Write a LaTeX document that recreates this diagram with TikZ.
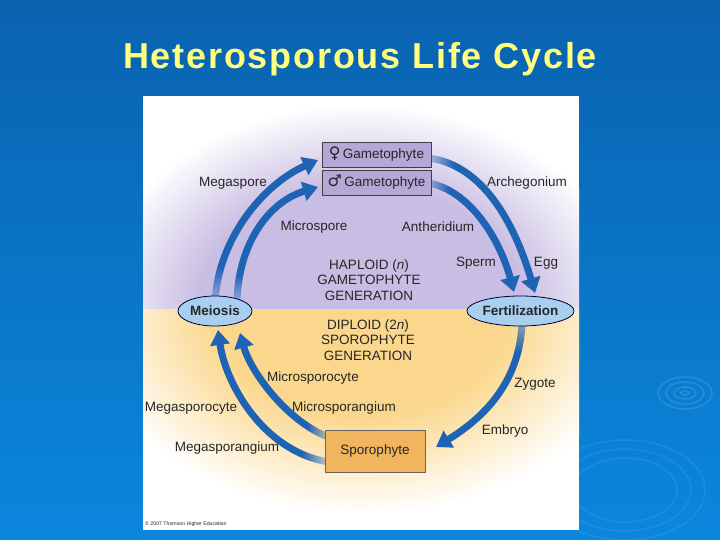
\documentclass[tikz,border=0pt]{standalone}
\usepackage{fontspec}
\setmainfont{Liberation Sans}
\newfontfamily\titlefont[LetterSpace=5]{Liberation Sans}
\newfontfamily\symfont{DejaVu Sans}
\usetikzlibrary{arrows.meta,shapes.geometric,fadings}
\definecolor{bgtop}{HTML}{0A62AF}
\definecolor{bgbot}{HTML}{0A87DD}
\definecolor{ttl}{HTML}{FFFF80}
\definecolor{lav}{HTML}{C8BDE2}
\definecolor{ylw}{HTML}{FAD78C}
\definecolor{gbox}{HTML}{B6A7D6}
\definecolor{sbox}{HTML}{F1B55E}
\definecolor{ebox}{HTML}{A9CFF0}
\definecolor{arr}{HTML}{1F63B5}
\definecolor{txt}{HTML}{262626}
\pgfdeclareradialshading{haplsh}{\pgfpoint{0bp}{0bp}}{color(0bp)=(lav); color(15bp)=(lav); color(25bp)=(white); color(50bp)=(white)}
\pgfdeclareradialshading{diplsh}{\pgfpoint{0bp}{0bp}}{color(0bp)=(ylw); color(13bp)=(ylw); color(25bp)=(white); color(50bp)=(white)}
\begin{tikzfadingfrompicture}[name=fadeS]
\fill[white] (-50bp,-12bp) rectangle (50bp,50bp);
\shade[bottom color=black!85, top color=white] (-50bp,-25bp) rectangle (50bp,-12bp);
\fill[black!85] (-50bp,-50bp) rectangle (50bp,-25bp);
\end{tikzfadingfrompicture}
\begin{tikzfadingfrompicture}[name=fadeW]
\fill[white] (-12bp,-50bp) rectangle (50bp,50bp);
\shade[left color=black!85, right color=white] (-25bp,-50bp) rectangle (-12bp,50bp);
\fill[black!85] (-50bp,-50bp) rectangle (-25bp,50bp);
\end{tikzfadingfrompicture}
\begin{tikzfadingfrompicture}[name=fadeN]
\fill[white] (-50bp,-50bp) rectangle (50bp,12bp);
\shade[top color=black!60, bottom color=white] (-50bp,12bp) rectangle (50bp,25bp);
\fill[black!60] (-50bp,25bp) rectangle (50bp,50bp);
\end{tikzfadingfrompicture}
\begin{tikzfadingfrompicture}[name=fadeE]
\fill[white] (-50bp,-50bp) rectangle (12bp,50bp);
\shade[right color=black!85, left color=white] (12bp,-50bp) rectangle (25bp,50bp);
\fill[black!85] (25bp,-50bp) rectangle (50bp,50bp);
\end{tikzfadingfrompicture}
\newcommand{\lbfont}{\fontsize{13.5}{15.5}\selectfont}
\begin{document}
\begin{tikzpicture}[x=1pt,y=1pt,
  lbl/.style={font=\lbfont, text=txt, inner sep=0pt},
  gamebox/.style={draw=black!75, line width=0.8pt, fill=gbox, minimum width=109pt, minimum height=25pt, inner sep=0pt, font=\lbfont, text=txt},
  sporobox/.style={draw=black!60, line width=0.8pt, fill=sbox, minimum width=100pt, minimum height=42pt, inner sep=0pt, font=\lbfont, text=txt},
  stage/.style={ellipse, draw=black!80!blue, line width=0.8pt, fill=ebox, inner sep=0pt, minimum height=30pt, font=\lbfont\bfseries, text=txt},
  bigarrow/.style={draw=arr, line width=7pt, -{Triangle[width=19pt,length=15pt]}}
]
\useasboundingbox (0,0) rectangle (720,-540);
% slide background
\shade[top color=bgtop, bottom color=bgbot] (0,0) rectangle (720,-540);
% ripples
\begin{scope}[draw=white, opacity=0.12, line width=1.5pt]
\draw (685,-393) ellipse [x radius=27, y radius=16];
\draw (685,-393) ellipse [x radius=19, y radius=11];
\draw (685,-393) ellipse [x radius=11, y radius=6];
\draw (685,-393) ellipse [x radius=4, y radius=2];
\end{scope}
\begin{scope}[draw=white, opacity=0.08, line width=1.5pt]
\draw (625,-490) ellipse [x radius=80, y radius=50];
\draw (625,-490) ellipse [x radius=66, y radius=41];
\draw (625,-490) ellipse [x radius=52, y radius=32];
\end{scope}
% title
\node[font=\titlefont\fontsize{36}{40}\selectfont\bfseries, text=ttl] (title) at (360,-59) {Heterosporous Life Cycle};
% panel
\fill[white] (143,-96) rectangle (579,-530);
\begin{scope}
\clip (143,-97) rectangle (579,-309);
\shade[shading=haplsh] (361,-309) ellipse [x radius=270, y radius=205];
\end{scope}
\begin{scope}
\clip (143,-309) rectangle (579,-530);
\shade[shading=diplsh] (361,-309) ellipse [x radius=280, y radius=205];
\end{scope}
% arrows
\path[bigarrow, path fading=fadeS] (215,-302) .. controls (218,-240) and (262,-185) .. (318,-160);
\path[bigarrow, path fading=fadeS] (237,-302) .. controls (238,-245) and (268,-202) .. (318,-187);
\path[bigarrow, path fading=fadeW] (428,-158) .. controls (488,-165) and (518,-235) .. (535,-293);
\path[bigarrow, path fading=fadeW] (428,-183) .. controls (470,-190) and (500,-240) .. (514,-292);
\path[bigarrow, path fading=fadeN] (522,-322) .. controls (520,-385) and (480,-420) .. (436,-447);
\path[bigarrow, path fading=fadeE] (328,-437) .. controls (285,-420) and (250,-370) .. (240,-333);
\path[bigarrow, path fading=fadeE] (328,-462) .. controls (260,-450) and (225,-380) .. (218,-330);
% nodes
\node[gamebox] (fgam) at (376.5,-154.5) {{\symfont\fontsize{16}{16}\selectfont ♀}\,Gametophyte};
\node[gamebox] (mgam) at (376.5,-182.5) {{\symfont\fontsize{16}{16}\selectfont ♂}\,Gametophyte};
\node[stage, minimum width=74pt] (meiosis) at (215,-311) {Meiosis};
\node[stage, minimum width=103pt] (fert) at (520.5,-311) {Fertilization};
\node[sporobox] (sporo) at (375,-451) {Sporophyte};
% labels
\node[lbl] (megaspore) at (233,-183) {Megaspore};
\node[lbl] (archeg) at (527,-183) {Archegonium};
\node[lbl] (microspore) at (314,-227) {Microspore};
\node[lbl] (antherid) at (438,-227) {Antheridium};
\node[lbl] (sperm) at (476,-263) {Sperm};
\node[lbl] (egg) at (546,-263) {Egg};
\node[lbl, align=center] (hapl) at (369,-280) {HAPLOID (\textit{n})\\GAMETOPHYTE\\GENERATION};
\node[lbl, align=center] (dipl) at (368,-340) {DIPLOID (2\textit{n})\\SPOROPHYTE\\GENERATION};
\node[lbl] (microcyte) at (313,-378) {Microsporocyte};
\node[lbl] (zygote) at (535,-384) {Zygote};
\node[lbl] (megacyte) at (191,-408) {Megasporocyte};
\node[lbl] (microang) at (344,-408) {Microsporangium};
\node[lbl] (embryo) at (505,-431) {Embryo};
\node[lbl] (megaang) at (227,-448) {Megasporangium};
\node[font=\fontsize{5.2}{6}\selectfont, text=txt, anchor=west, inner sep=0pt] (copy) at (145,-524) {© 2007 Thomson Higher Education};
\end{tikzpicture}
\end{document}
